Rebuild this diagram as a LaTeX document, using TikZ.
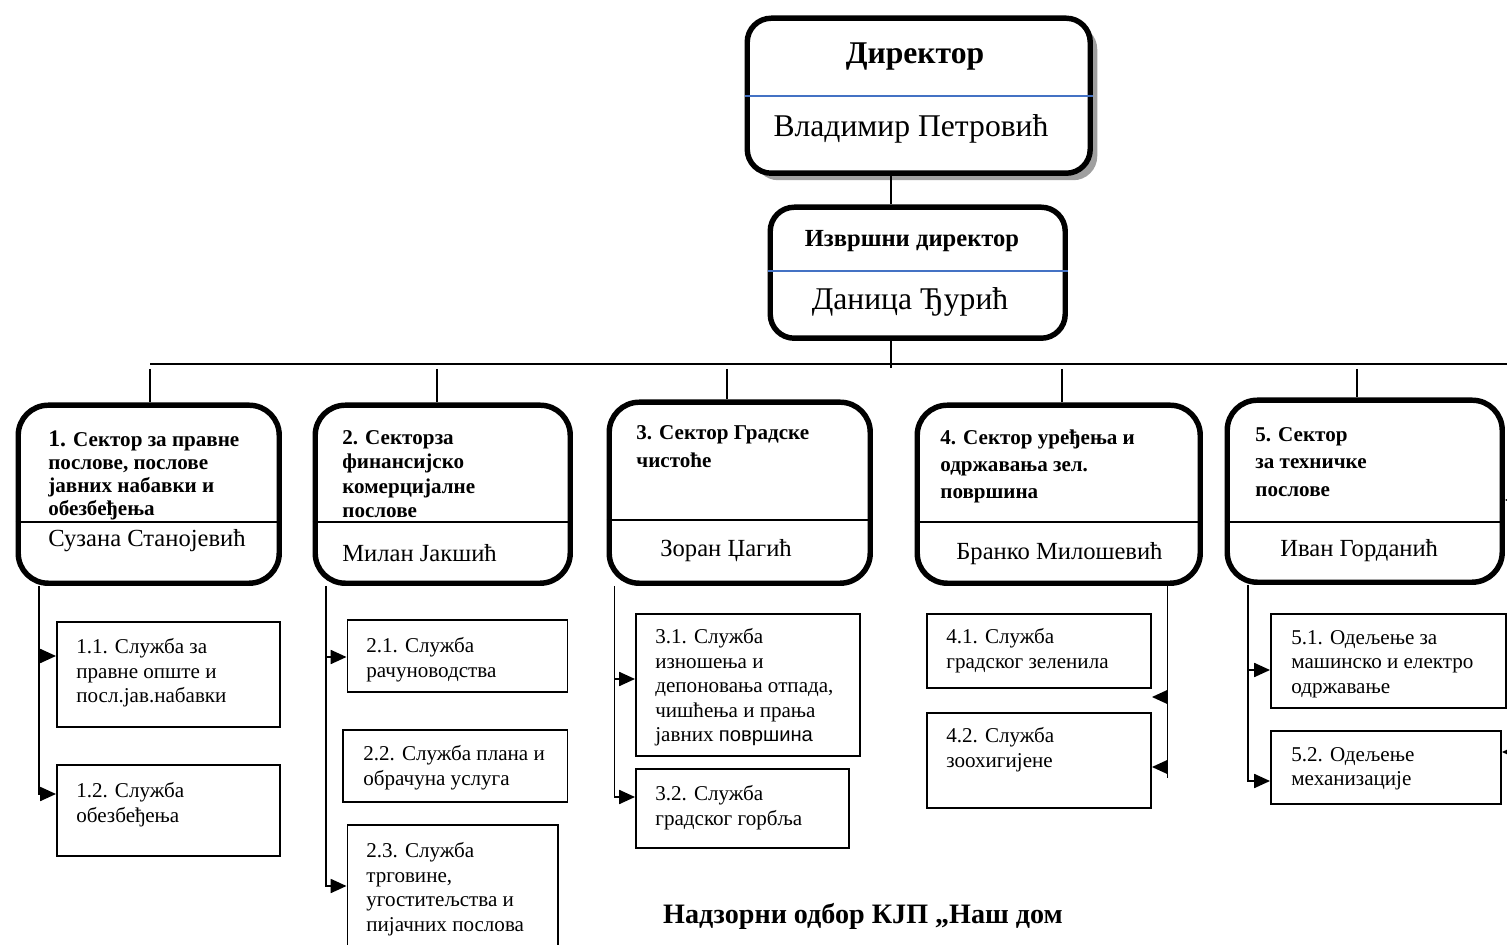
\documentclass[tikz,border=0pt]{standalone}
\usepackage{fontspec}
\setmainfont{Liberation Serif}
\newfontfamily\arialfont{Liberation Sans}
\usetikzlibrary{arrows.meta,shadows}

\definecolor{wordblue}{HTML}{4472C4}

\tikzset{
	headbox/.style={draw, line width=3.1pt, rounded corners=0.48cm, fill=white, inner sep=0pt, anchor=north west},
	sectorbox/.style={draw, line width=3.1pt, rounded corners=0.6cm, inner sep=0pt, anchor=north west},
	servicebox/.style={draw, line width=1.1pt, inner sep=0pt, anchor=north west},
	servicetext/.style={inner sep=0pt, anchor=north west, align=left, font=\fontsize{12}{14}\selectfont},
	sectortitle/.style={inner sep=0pt, anchor=north west, align=left, font=\fontsize{12}{#1}\selectfont\bfseries},
	sectorname/.style={inner sep=0pt, anchor=base west, font=\fontsize{14}{16}\selectfont},
	conn/.style={line width=0.9pt},
	arr/.style={conn, -{Triangle[length=9pt,width=8pt]}},
	divider/.style={line width=0.7pt, draw=wordblue},
}

\def\pxu{0.02cm}

\begin{document}
\begin{tikzpicture}[x=\pxu, y=-\pxu]

\path [use as bounding box] (0,0) rectangle (1507,945);

% DIRECTORS
\node [headbox, minimum width=343*\pxu, minimum height=155*\pxu,
	drop shadow={shadow xshift=4pt, shadow yshift=-4pt, fill=gray!75, opacity=1}] (dir) at (744.5,15.5) {};
\draw [divider] (dir.west |- 0,96) -- (dir.east |- 0,96);
\node [font=\fontsize{18}{20}\selectfont\bfseries] (dirtitle) at (915,57) {Директор};
\node [font=\fontsize{18}{20}\selectfont] (dirname) at (911,129) {Владимир Петровић};

\node [headbox, minimum width=295*\pxu, minimum height=131*\pxu] (exec) at (767.5,204.5) {};
\draw [divider] (exec.west |- 0,271) -- (exec.east |- 0,271);
\node [font=\fontsize{14}{16}\selectfont\bfseries] (exectitle) at (912,241.5) {Извршни директор};
\node [font=\fontsize{18}{20}\selectfont] (execname) at (910,301.5) {Даница Ђурић};

\coordinate (spine) at (891,0);
\draw [conn] (dir.south -| spine) -- (exec.north -| spine);
\draw [conn] (exec.south -| spine) -- (spine |- 0,368);

% BUS
\coordinate (busL) at (150,364);
\coordinate (busR) at (1510,364);
\draw [conn] (busL) -- (busR);

% SECTORS
\node [sectorbox, minimum width=261*\pxu, minimum height=178*\pxu] (s1) at (15.5,402.5) {};
\node [sectorbox, minimum width=255*\pxu, minimum height=178*\pxu] (s2) at (312.5,402.5) {};
\node [sectorbox, minimum width=261*\pxu, minimum height=181*\pxu] (s3) at (606.5,399.5) {};
\node [sectorbox, minimum width=283*\pxu, minimum height=178*\pxu] (s4) at (914.5,402.5) {};
\node [sectorbox, minimum width=275*\pxu, minimum height=182*\pxu] (s5) at (1224.5,397.5) {};

\foreach \s/\x in {s1/150, s2/437, s3/727, s4/1062, s5/1357}
	\draw [conn] (\x,369) -- (\s.north -| \x,0);

\foreach \s/\y in {s1/522, s2/522, s3/520, s4/522, s5/522}
	\draw [conn] (\s.west |- 0,\y) -- (\s.east |- 0,\y);

\node [sectortitle=13.2] (t1) at (48,430) {{\fontsize{13.5}{13.2}\selectfont 1.} Сектор за правне\\послове, послове\\јавних набавки и\\обезбеђења};
\node [sectortitle=13.9] (t2) at (342,430) {2. Секторза\\финансијско\\комерцијалне\\послове};
\node [sectortitle=16] (t3) at (636,425) {3. Сектор Градске\\чистоће};
\node [sectortitle=15.1] (t4) at (940,430) {4. Сектор уређења и\\одржавања зел.\\површина};
\node [sectortitle=15.6] (t5) at (1255,427) {5. Сектор\\за техничке\\послове};

\node [sectorname] (n1) at (48,546) {Сузана Станојевић};
\node [sectorname] (n2) at (342,561) {Милан Јакшић};
\node [sectorname] (n3) at (660,556) {Зоран Џагић};
\node [sectorname] (n4) at (956,559) {Бранко Милошевић};
\node [sectorname] (n5) at (1280,556) {Иван Горданић};

% SERVICES
\node [servicebox, minimum width=223*\pxu, minimum height=105*\pxu] (s11) at (56,621) {};
\node [servicebox, minimum width=223*\pxu, minimum height=91*\pxu] (s12) at (56,764) {};
\node [servicebox, minimum width=220*\pxu, minimum height=72*\pxu] (s21) at (346.5,619) {};
\node [servicebox, minimum width=224.5*\pxu, minimum height=72*\pxu] (s22) at (342,729) {};
\node [servicebox, minimum width=210.5*\pxu, minimum height=140*\pxu] (s23) at (346.5,824) {};
\node [servicebox, minimum width=224*\pxu, minimum height=142*\pxu] (s31) at (635,613) {};
\node [servicebox, minimum width=213*\pxu, minimum height=79*\pxu] (s32) at (635,768) {};
\node [servicebox, minimum width=224*\pxu, minimum height=74*\pxu] (s41) at (926,613) {};
\node [servicebox, minimum width=224*\pxu, minimum height=95*\pxu] (s42) at (926,712) {};
\node [servicebox, minimum width=235*\pxu, minimum height=94*\pxu] (s51) at (1270,613) {};
\node [servicebox, minimum width=230*\pxu, minimum height=73*\pxu] (s52) at (1270,730) {};

\node [servicetext] (l11) at (76,638) {1.1. Служба за\\правне опште и\\посл.јав.набавки};
\node [servicetext] (l12) at (76,782) {1.2. Служба\\обезбеђења};
\node [servicetext] (l21) at (366,637) {2.1. Служба\\рачуноводства};
\node [servicetext] (l22) at (363,745) {2.2. Служба плана и\\обрачуна услуга};
\node [servicetext] (l23) at (366,842) {2.3. Служба\\трговине,\\угоститељства и\\пијачних послова};
\node [servicetext] (l31) at (655,628) {3.1. Служба\\изношења и\\депоновања отпада,\\чишћења и прања\\јавних {\arialfont\fontsize{11.5}{14}\selectfont површина}};
\node [servicetext] (l32) at (655,785) {3.2. Служба\\градског горбља};
\node [servicetext] (l41) at (946,628) {4.1. Служба\\градског зеленила};
\node [servicetext] (l42) at (946,727) {4.2. Служба\\зоохигијене};
\node [servicetext] (l51) at (1291,630) {5.1. Одељење за\\машинско и електро\\одржавање};
\node [servicetext] (l52) at (1291,747) {5.2. Одељење\\механизације};

% LINKS
\coordinate (v1) at (39,0);
\coordinate (v2) at (326,0);
\coordinate (v3) at (614.5,0);
\coordinate (v4) at (1167.5,0);
\coordinate (v5) at (1248,0);
\coordinate (edge) at (1524,0);

\draw [arr] (v1 |- s1.south) |- (s12.west |- 0,794);
\draw [arr] (v1 |- 0,656) -- (s11.west |- 0,656);

\draw [arr] (v2 |- s2.south) |- (s23.west |- 0,886);
\draw [arr] (v2 |- 0,657) -- (s21.west |- 0,657);

\draw [arr] (v3 |- s3.south) |- (s32.west |- 0,797);
\draw [arr] (v3 |- 0,679) -- (s31.west |- 0,679);

\draw [conn] (v4 |- s4.south) -- (v4 |- 0,778);
\draw [arr] (v4 |- 0,697) -- (s41.east |- 0,697);
\draw [arr] (v4 |- 0,767) -- (s42.east |- 0,767);

\draw [arr] (v5 |- s5.south) |- (s52.west |- 0,781);
\draw [arr] (v5 |- 0,670) -- (s51.west |- 0,670);

\draw [arr] (edge |- 0,500) -- (s5.east |- 0,500);
\draw [arr] (edge |- 0,660) -- (s51.east |- 0,660);
\draw [arr] (edge |- 0,752) -- (s52.east |- 0,752);

% BOARD
\node [font=\fontsize{16}{18}\selectfont\bfseries] (board) at (863,916) {Надзорни одбор КЈП „Наш дом};

\end{tikzpicture}
\end{document}
